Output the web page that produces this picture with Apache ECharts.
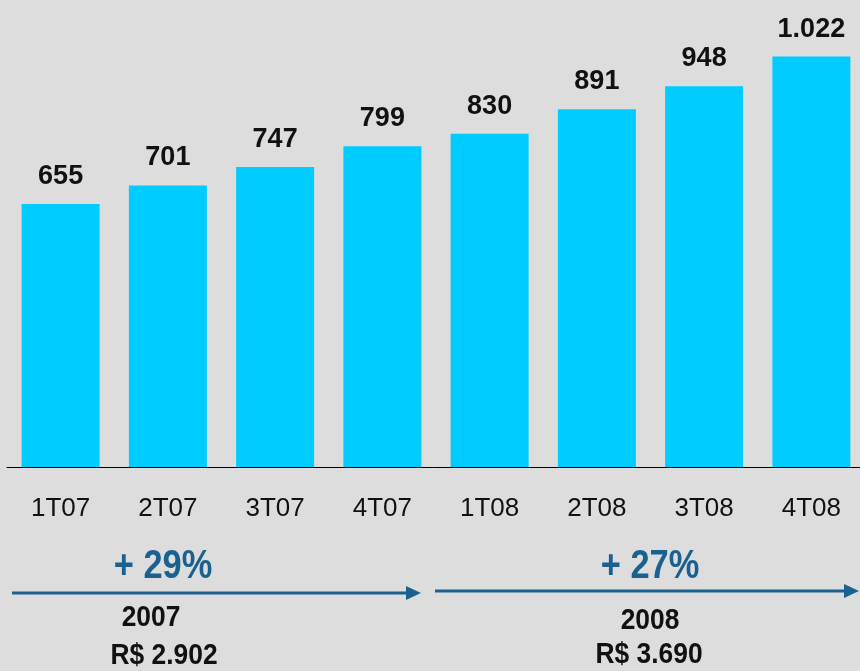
<!DOCTYPE html>
<html>
<head>
<meta charset="utf-8">
<script src="https://cdn.jsdelivr.net/npm/echarts@6/dist/echarts.min.js"></script>
<style>
  html, body { margin: 0; padding: 0; background: #dddddd; }
  #chart { width: 860px; height: 671px; }
</style>
</head>
<body>
<div id="chart"></div>
<script>
const quarters = ["1T07", "2T07", "3T07", "4T07", "1T08", "2T08", "3T08", "4T08"];
const values = [655, 701, 747, 799, 830, 891, 948, 1022];
const valueLabels = ["655", "701", "747", "799", "830", "891", "948", "1.022"];
const yearGrowth = ["+ 29%", "+ 27%"];
const yearNames = ["2007", "2008"];
const yearTotals = ["R$ 2.902", "R$ 3.690"];

const font = '"Liberation Sans", Arial, sans-serif';
const blue = "#1a6190";

const chart = echarts.init(document.getElementById("chart"));

function arrow(x1, x2, y) {
  return [
    {type: "line", shape: {x1: x1, y1: y, x2: x2 - 12, y2: y}, style: {stroke: blue, lineWidth: 3}},
    {type: "polygon", shape: {points: [[x2 - 15, y - 7], [x2, y], [x2 - 15, y + 7]]}, style: {fill: blue}}
  ];
}

// annotation text, squeezed horizontally to mimic the narrow face
function txt(x, y, text, size, color, sx) {
  return {
    type: "text", x: x, y: y, scaleX: sx,
    style: {text: text, font: "bold " + size + "px " + font, fill: color, align: "center", verticalAlign: "middle"}
  };
}

const option = {
  backgroundColor: "#dddddd",
  animation: false,
  grid: {left: 7, width: 858, top: 0, bottom: 204, outerBoundsMode: "none"},
  xAxis: {
    type: "category",
    data: quarters,
    axisLine: {lineStyle: {color: "#000", width: 1}},
    axisTick: {show: false},
    axisLabel: {color: "#111", fontFamily: font, fontSize: 26, margin: 29}
  },
  yAxis: {type: "value", min: 0, max: 1163, show: false, splitLine: {show: false}},
  series: [{
    type: "bar",
    data: values,
    barWidth: 78,
    itemStyle: {color: "#00ccff"},
    label: {
      show: true,
      position: "top",
      distance: 14,
      color: "#111",
      fontFamily: font,
      fontWeight: "bold",
      fontSize: 27,
      formatter: (p) => valueLabels[p.dataIndex]
    }
  }],
  graphic: [
    ...arrow(12, 421, 593),
    ...arrow(435, 859, 591),
    txt(163, 567, yearGrowth[0], 41, blue, 0.84),
    txt(650, 567, yearGrowth[1], 41, blue, 0.84),
    txt(151, 618, yearNames[0], 30, "#111", 0.88),
    txt(164, 656, yearTotals[0], 30, "#111", 0.88),
    txt(650, 621, yearNames[1], 30, "#111", 0.88),
    txt(649, 655, yearTotals[1], 30, "#111", 0.88)
  ]
};

chart.setOption(option);
</script>
</body>
</html>
